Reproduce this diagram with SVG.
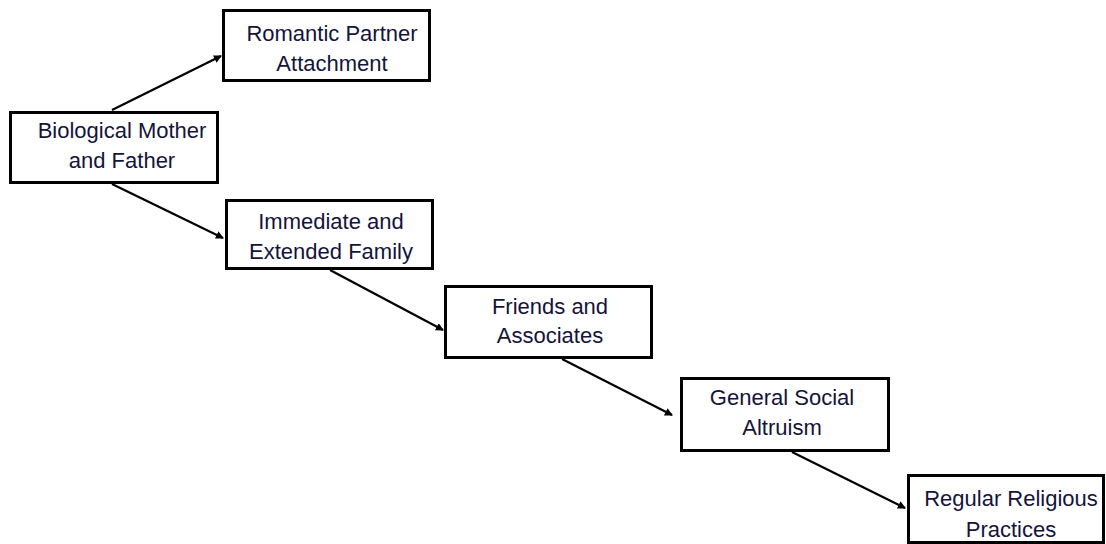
<svg xmlns="http://www.w3.org/2000/svg" width="1106" height="544" viewBox="0 0 1106 544">
<style>
.box{fill:#fff;stroke:#000;stroke-width:3}
.t{font-family:"Liberation Sans",Arial,sans-serif;font-size:22px;fill:#14143a;text-anchor:middle}
.c{stroke:#000;stroke-width:2.2;fill:none;marker-end:url(#ah)}
</style>
<defs>
<marker id="ah" markerWidth="8" markerHeight="8" refX="7" refY="4" orient="auto" markerUnits="userSpaceOnUse">
<path d="M0,0 L8,4 L0,8 Z" fill="#000"/>
</marker>
</defs>
<rect width="1106" height="544" fill="#fff"/>
<g id="connectors">
<line class="c" x1="112" y1="110" x2="221" y2="56"/>
<line class="c" x1="112" y1="184" x2="223" y2="238"/>
<line class="c" x1="330" y1="270" x2="443" y2="330"/>
<line class="c" x1="562" y1="359" x2="672" y2="415"/>
<line class="c" x1="792" y1="452" x2="905" y2="508"/>
</g>
<g id="romantic">
<rect class="box" x="223.5" y="10.5" width="206" height="70"/>
<text class="t" x="332" y="41">Romantic Partner</text>
<text class="t" x="332" y="71">Attachment</text>
</g>
<g id="biological">
<rect class="box" x="10.5" y="112.5" width="207" height="70"/>
<text class="t" x="122" y="138">Biological Mother</text>
<text class="t" x="122" y="168">and Father</text>
</g>
<g id="immediate">
<rect class="box" x="226.5" y="200.5" width="206" height="68"/>
<text class="t" x="331" y="229">Immediate and</text>
<text class="t" x="331" y="259">Extended Family</text>
</g>
<g id="friends">
<rect class="box" x="445.5" y="286.5" width="206" height="71"/>
<text class="t" x="550" y="314">Friends and</text>
<text class="t" x="550" y="343">Associates</text>
</g>
<g id="general">
<rect class="box" x="681.5" y="378.5" width="207" height="72"/>
<text class="t" x="782" y="405">General Social</text>
<text class="t" x="782" y="435">Altruism</text>
</g>
<g id="regular">
<rect class="box" x="908.5" y="475.5" width="195" height="67"/>
<text class="t" x="1011" y="506">Regular Religious</text>
<text class="t" x="1011" y="537">Practices</text>
</g>
</svg>
